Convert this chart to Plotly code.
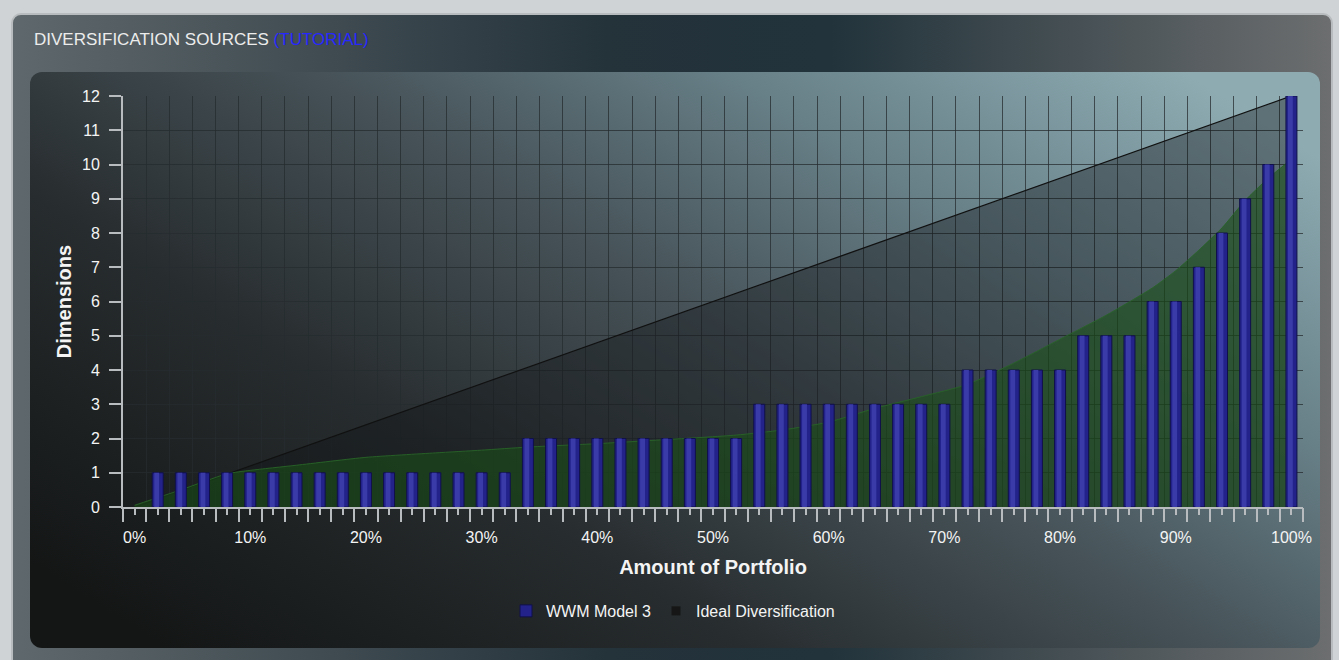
import base64
import plotly.graph_objects as go

# ---------------- data ----------------
portfolio_pct = [2, 4, 6, 8, 10, 12, 14, 16, 18, 20, 22, 24, 26, 28, 30, 32,
                 34, 36, 38, 40, 42, 44, 46, 48, 50, 52,
                 54, 56, 58, 60, 62, 64, 66, 68, 70,
                 72, 74, 76, 78, 80,
                 82, 84, 86,
                 88, 90, 92, 94, 96, 98, 100]
wwm_dimensions = [1, 1, 1, 1, 1, 1, 1, 1, 1, 1, 1, 1, 1, 1, 1, 1,
                  2, 2, 2, 2, 2, 2, 2, 2, 2, 2,
                  3, 3, 3, 3, 3, 3, 3, 3, 3,
                  4, 4, 4, 4, 4,
                  5, 5, 5,
                  6, 6, 7, 8, 9, 10, 12]

ideal_pct = [0, 100]
ideal_dimensions = [0, 12]

trend_pct = [0, 4, 8, 10, 14, 20, 26, 30, 34, 40, 46, 52, 56, 60, 64, 68, 72,
             76, 80, 84, 88, 90, 92, 94, 96, 98, 100]
trend_dimensions = [0.05, 0.5, 0.97, 1.07, 1.22, 1.45, 1.58, 1.66, 1.75, 1.85, 1.97,
                    2.1, 2.25, 2.48, 2.88, 3.22, 3.58, 4.2, 4.9, 5.6, 6.4, 6.9,
                    7.5, 8.15, 8.95, 9.6, 10.15]

x_tick_vals = [0, 10, 20, 30, 40, 50, 60, 70, 80, 90, 100]
x_tick_text = ["0%", "10%", "20%", "30%", "40%", "50%", "60%", "70%", "80%", "90%", "100%"]

# ---------------- background (gradient panels) ----------------
W, H = 1339, 660
ML, MR, MT, MB = 123, 36, 96, 153
PW, PH = W - ML - MR, H - MT - MB

svg = f'''<svg xmlns="http://www.w3.org/2000/svg" width="{W}" height="{H}" viewBox="0 0 {W} {H}">
<defs>
<linearGradient id="outer" x1="0" y1="0" x2="1" y2="0">
<stop offset="0" stop-color="#5f686c"/>
<stop offset="0.45" stop-color="#24323a"/>
<stop offset="0.62" stop-color="#22333b"/>
<stop offset="1" stop-color="#6c6e6f"/>
</linearGradient>
<linearGradient id="inner" x1="0" y1="0.85" x2="1" y2="0.15">
<stop offset="0" stop-color="#141616"/>
<stop offset="0.3" stop-color="#272c2e"/>
<stop offset="0.55" stop-color="#465258"/>
<stop offset="0.78" stop-color="#6a838b"/>
<stop offset="1" stop-color="#8eabb2"/>
</linearGradient>
</defs>
<rect width="{W}" height="{H}" fill="#cfd3d5"/>
<rect x="12" y="14" width="1320" height="680" rx="9" fill="url(#outer)" stroke="#b9bcbe" stroke-width="2"/>
<rect x="30" y="72" width="1290" height="576" rx="12" fill="url(#inner)"/>
</svg>'''
bg_src = "data:image/svg+xml;base64," + base64.b64encode(svg.encode()).decode()

FONT = "Liberation Sans, Arial, sans-serif"
AXIS_COL = "#b8bcbe"
GRID_COL = "rgba(38,44,47,0.75)"
TXT = "#f4f4f4"

fig = go.Figure()

# Ideal diversification area
fig.add_trace(go.Scatter(
    x=ideal_pct, y=ideal_dimensions, mode="lines", fill="tozeroy",
    fillcolor="rgba(15,18,20,0.38)", line=dict(color="#111111", width=1.3),
    showlegend=False, hoverinfo="skip", xaxis="x", yaxis="y"))

# green trend area
fig.add_trace(go.Scatter(
    x=trend_pct, y=trend_dimensions, mode="lines", fill="tozeroy",
    fillcolor="rgba(27,80,25,0.6)",
    line=dict(color="rgba(40,100,40,0.9)", width=1, shape="spline", smoothing=0.6),
    showlegend=False, hoverinfo="skip", xaxis="x", yaxis="y"))

# bars on overlay axis so they are drawn above the areas
fig.add_trace(go.Bar(
    x=portfolio_pct, y=wwm_dimensions, width=0.95, name="WWM Model 3",
    marker=dict(color="#22228a", line=dict(color="#10104a", width=1)),
    legendrank=1, xaxis="x2", yaxis="y"))
# cylinder highlight on the bars
fig.add_trace(go.Bar(
    x=portfolio_pct, y=wwm_dimensions, width=0.42, offset=-0.3,
    marker=dict(color="#3a3aa8", line=dict(width=0)),
    showlegend=False, hoverinfo="skip", xaxis="x2", yaxis="y"))

# legend entry for ideal diversification
fig.add_trace(go.Scatter(
    x=[None], y=[None], mode="markers", name="Ideal Diversification",
    marker=dict(symbol="square", size=9, color="#161616"),
    legendrank=2, xaxis="x2", yaxis="y"))

fig.update_layout(
    width=W, height=H,
    margin=dict(l=ML, r=MR, t=MT, b=MB, pad=0),
    paper_bgcolor="rgba(0,0,0,0)", plot_bgcolor="rgba(0,0,0,0)",
    font=dict(family=FONT, color=TXT),
    showlegend=True,
    barmode="overlay",
    images=[dict(source=bg_src, xref="paper", yref="paper",
                 x=-ML / PW, y=(PH + MT) / PH, sizex=W / PW, sizey=H / PH,
                 xanchor="left", yanchor="top", sizing="stretch", layer="below")],
    xaxis=dict(
        range=[-1, 101], fixedrange=True,
        tickmode="array", tickvals=x_tick_vals, ticktext=x_tick_text,
        ticks="outside", ticklen=6, tickwidth=1.5, tickcolor=AXIS_COL,
        minor=dict(tickmode="linear", tick0=0, dtick=2, ticks="outside", ticklen=6,
                   tickwidth=1.5, tickcolor=AXIS_COL, showgrid=False),
        showgrid=False, zeroline=False,
        showline=True, linecolor=AXIS_COL, linewidth=2,
        tickfont=dict(size=16, color=TXT), ticklabelstandoff=9,
        title=dict(text="Amount of Portfolio",
                   font=dict(size=20, color=TXT, family=FONT, weight="bold"), standoff=15),
    ),
    xaxis2=dict(
        overlaying="x", anchor="y", side="bottom",
        range=[-1, 101], fixedrange=True,
        tickmode="linear", tick0=-1, dtick=2,
        ticks="outside", ticklen=14, tickwidth=1.5, tickcolor=AXIS_COL,
        showticklabels=False, showgrid=True, gridcolor=GRID_COL, gridwidth=1,
        zeroline=False, showline=False,
    ),
    yaxis=dict(
        range=[0, 12], fixedrange=True, tickmode="linear", tick0=0, dtick=1,
        ticks="outside", ticklen=12, tickwidth=1.5, tickcolor=AXIS_COL,
        showgrid=True, gridcolor=GRID_COL, gridwidth=1, zeroline=False,
        showline=True, linecolor=AXIS_COL, linewidth=2,
        tickfont=dict(size=16, color=TXT), ticklabelstandoff=6,
        title=dict(text="Dimensions",
                   font=dict(size=20, color=TXT, family=FONT, weight="bold"), standoff=5),
    ),
    legend=dict(orientation="h", x=(506 - ML) / PW, xanchor="left", y=-0.253, yanchor="middle",
                font=dict(size=16, color=TXT, family=FONT), bgcolor="rgba(0,0,0,0)",
                itemclick=False, itemdoubleclick=False),
    annotations=[dict(
        text="DIVERSIFICATION SOURCES <span style='color:#2626ff'>(TUTORIAL)</span>",
        xref="paper", yref="paper", x=(32 - ML) / PW, y=(PH + MT - 39) / PH,
        xanchor="left", yanchor="middle", showarrow=False,
        font=dict(size=17, color="#ececec", family=FONT))],
)

fig.write_html("out.html")
